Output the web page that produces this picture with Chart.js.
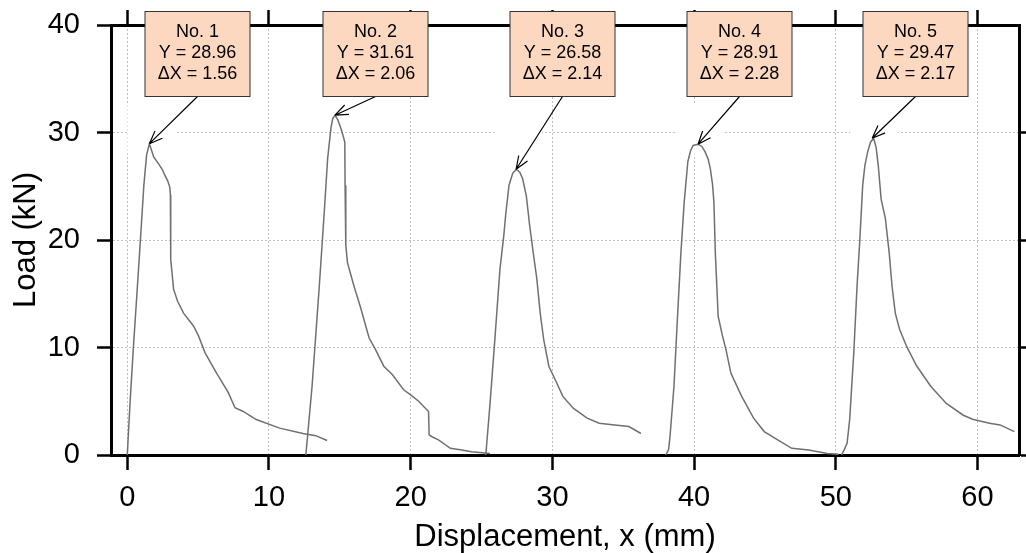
<!DOCTYPE html>
<html>
<head>
<meta charset="utf-8">
<script src="https://cdn.jsdelivr.net/npm/chart.js@4.4.1/dist/chart.umd.min.js"></script>
<style>
  html, body { margin: 0; padding: 0; background: #fff; }
  #wrap { width: 1026px; height: 553px; position: relative; }
</style>
</head>
<body>
<div id="wrap"><canvas id="chart"></canvas></div>
<script>
// --- axis ticks ---
const xTicks = [0, 10, 20, 30, 40, 50, 60];
const yTicks = [0, 10, 20, 30, 40];

// --- peak annotations ---
const specimens = ['No. 1', 'No. 2', 'No. 3', 'No. 4', 'No. 5'];
const peakLoad = [28.96, 31.61, 26.58, 28.91, 29.47];
const peakShift = [1.56, 2.06, 2.14, 2.28, 2.17];
const curveStart = [0, 12.6, 25.3, 38.0, 50.4];
const boxX = [4.9, 17.5, 30.7, 43.2, 55.6];

// --- load / displacement curves ---
const c1x = [0, 0.2, 0.43, 0.68, 0.93, 1.05, 1.17, 1.36, 1.56, 1.87, 2.15, 2.45, 2.7, 2.85, 3.0, 3.04, 3.05, 3.08, 3.27, 3.55, 3.97, 4.67, 5.02, 5.49, 6.31, 7.13, 7.6, 8.18, 9.1, 10.75, 12.4, 13.3, 14.1];
const c1y = [0, 5, 10, 15, 20.1, 22.6, 25.1, 27.9, 28.96, 27.7, 27.2, 26.6, 25.9, 25.5, 24.9, 24.2, 20.1, 18.2, 15.4, 14.3, 13.2, 12.0, 11.1, 9.5, 7.6, 5.8, 4.4, 4.05, 3.3, 2.5, 2.0, 1.8, 1.35];

const c2x = [12.6, 13.04, 13.55, 13.9, 14.14, 14.37, 14.5, 14.66, 14.85, 15.07, 15.25, 15.35, 15.37, 15.42, 15.54, 16.0, 16.47, 17.06, 17.52, 18.1, 18.7, 19.5, 20.0, 20.56, 21.26, 21.3, 21.5, 21.96, 22.8, 23.6, 24.3, 25.6];
const c2y = [0, 6.4, 15.7, 22.6, 27.6, 30.4, 31.3, 31.61, 31.2, 30.4, 29.6, 29.1, 25.1, 19.5, 17.9, 15.7, 13.7, 10.9, 9.8, 8.26, 7.48, 6.07, 5.6, 5.0, 4.05, 1.87, 1.7, 1.4, 0.62, 0.47, 0.3, 0.15];

const c3x = [25.3, 25.6, 25.96, 26.3, 26.57, 26.7, 26.94, 27.2, 27.44, 27.7, 27.9, 28.16, 28.4, 28.65, 28.9, 29.14, 29.39, 29.75, 30.2, 30.74, 31.47, 32.45, 33.3, 34.4, 35.4, 36.25];
const c3y = [0, 4.8, 11.1, 17.3, 20.4, 22.3, 25.1, 26.2, 26.58, 26.3, 25.7, 24.1, 21.3, 18.8, 16.4, 13.2, 10.7, 8.26, 7.0, 5.45, 4.36, 3.43, 2.96, 2.8, 2.65, 2.0];

const c4x = [38.0, 38.2, 38.3, 38.58, 38.82, 39.07, 39.3, 39.56, 39.75, 39.93, 40.28, 40.55, 40.78, 41.0, 41.15, 41.3, 41.4, 41.5, 41.7, 42.0, 42.25, 42.6, 43.36, 44.2, 44.95, 45.9, 46.9, 48.1, 49.4, 50.2];
const c4y = [0, 0.5, 1.7, 6.4, 12.6, 18.8, 23.5, 27.3, 28.3, 28.8, 28.91, 28.7, 28.2, 27.5, 26.6, 25.2, 23.5, 18.8, 12.9, 11.1, 9.8, 7.6, 5.45, 3.43, 2.18, 1.4, 0.62, 0.47, 0.15, 0.06];

const c5x = [50.4, 50.6, 50.8, 50.98, 51.27, 51.5, 51.7, 51.9, 52.05, 52.25, 52.45, 52.67, 52.85, 53.0, 53.2, 53.5, 53.77, 53.97, 54.2, 54.5, 55.0, 55.7, 56.7, 57.8, 59.0, 59.65, 60.85, 61.6, 62.6];
const c5y = [0, 0.5, 1.1, 3.3, 9.5, 15.7, 20.1, 25.1, 26.9, 28.2, 29.1, 29.47, 28.6, 26.9, 23.8, 22.0, 18.8, 15.7, 13.2, 11.7, 10.1, 8.3, 6.4, 4.8, 3.7, 3.33, 2.96, 2.8, 2.18];

const FONT = "'Liberation Sans', Arial, Helvetica, sans-serif";
const curves = [[c1x, c1y], [c2x, c2y], [c3x, c3y], [c4x, c4y], [c5x, c5y]];

const toPoints = (xs, ys) => xs.map((v, i) => ({ x: v, y: ys[i] }));
const setTicks = vals => s => { s.ticks = vals.map(v => ({ value: v })); };
// fixed axis box sizes, no extra label padding
const fixSize = (w, h) => s => {
  if (w !== null) s.width = w;
  if (h !== null) s.height = h;
  s.paddingTop = s.paddingBottom = s.paddingLeft = s.paddingRight = 0;
};

// white patches above the peaks (the grid is hidden there in the original)
const peakMask = {
  id: 'peakMask',
  beforeDatasetsDraw(chart) {
    const { ctx, scales: { x, y } } = chart;
    ctx.save();
    ctx.fillStyle = '#fff';
    peakLoad.forEach((v, i) => {
      const px = x.getPixelForValue(curveStart[i] + peakShift[i]);
      const py = y.getPixelForValue(v);
      ctx.fillRect(px + 2 - 24, py - 40, 48, 50);
    });
    ctx.restore();
  }
};

// boxes + arrows
const peakNotes = {
  id: 'peakNotes',
  afterDraw(chart) {
    const { ctx, chartArea, scales: { x, y } } = chart;
    const w = 105, h = 85, top = Math.round(chartArea.top - 14) + 0.5;
    ctx.save();
    specimens.forEach((name, i) => {
      const px = x.getPixelForValue(curveStart[i] + peakShift[i]);
      const py = y.getPixelForValue(peakLoad[i]);
      const bx = Math.round(x.getPixelForValue(boxX[i])) + 0.5;

      // arrow
      const sx = bx, sy = top + h;
      const ang = Math.atan2(py - sy, px - sx);
      ctx.strokeStyle = '#000';
      ctx.lineWidth = 1.2;
      ctx.beginPath();
      ctx.moveTo(sx, sy);
      ctx.lineTo(px, py);
      [-0.38, 0.38].forEach(d => {
        ctx.moveTo(px, py);
        ctx.lineTo(px - 14 * Math.cos(ang + d), py - 14 * Math.sin(ang + d));
      });
      ctx.stroke();

      // box
      ctx.fillStyle = '#fdd8c0';
      ctx.fillRect(bx - w / 2, top, w, h);
      ctx.strokeStyle = '#333';
      ctx.lineWidth = 1;
      ctx.strokeRect(bx - w / 2, top, w, h);

      // text
      ctx.fillStyle = '#000';
      ctx.font = '18px ' + FONT;
      ctx.textAlign = 'center';
      ctx.textBaseline = 'middle';
      ctx.fillText(name, bx, top + 21);
      ctx.fillText('Y = ' + peakLoad[i].toFixed(2), bx, top + 42);
      ctx.fillText('\u0394X = ' + peakShift[i].toFixed(2), bx, top + 63);
    });
    ctx.restore();
  }
};

new Chart(document.getElementById('chart'), {
  type: 'line',
  data: {
    datasets: curves.map((c, i) => ({
      label: specimens[i],
      data: toPoints(c[0], c[1]),
      borderColor: '#707070',
      borderWidth: 1.5,
      pointRadius: 0,
      tension: 0,
      fill: false
    }))
  },
  options: {
    responsive: true,
    maintainAspectRatio: false,
    animation: false,
    layout: { padding: 0 },
    plugins: { legend: { display: false }, tooltip: { enabled: false } },
    scales: {
      x: {
        type: 'linear', position: 'bottom', min: -1.15, max: 62.93,
        afterBuildTicks: setTicks(xTicks),
        afterFit: fixSize(null, 98),
        grid: { color: '#c0c0c0', lineWidth: 1, tickLength: 15, tickColor: '#000', tickWidth: 2.5 },
        border: { color: '#000', width: 3, dash: [2, 2] },
        ticks: { color: '#000', font: { family: FONT, size: 29 }, padding: 11, maxRotation: 0 },
        title: { display: true, text: 'Displacement, x (mm)', color: '#000', font: { family: FONT, size: 31, lineHeight: 1 }, padding: 0 }
      },
      x2: {
        type: 'linear', position: 'top', min: -1.15, max: 62.93,
        afterBuildTicks: setTicks(xTicks),
        afterFit: fixSize(null, 25),
        grid: { drawOnChartArea: false, tickLength: 15, tickColor: '#000', tickWidth: 2.5 },
        border: { color: '#000', width: 3 },
        ticks: { display: false }
      },
      y: {
        type: 'linear', position: 'left', min: 0, max: 40,
        afterBuildTicks: setTicks(yTicks),
        afterFit: fixSize(111, null),
        grid: { color: '#c0c0c0', lineWidth: 1, tickLength: 14, tickColor: '#000', tickWidth: 2.5 },
        border: { color: '#000', width: 3, dash: [2, 2] },
        ticks: { color: '#000', font: { family: FONT, size: 29 }, padding: 17 },
        title: { display: true, text: 'Load (kN)', color: '#000', font: { family: FONT, size: 31, lineHeight: 1 }, padding: { top: 11, bottom: 0 } }
      },
      y2: {
        type: 'linear', position: 'right', min: 0, max: 40,
        afterBuildTicks: setTicks(yTicks),
        afterFit: fixSize(7, null),
        grid: {
          drawOnChartArea: false, tickLength: 14, tickWidth: 2.5,
          tickColor: c => (c.tick && c.tick.value === 40 ? 'rgba(0,0,0,0)' : '#000')
        },
        border: { color: '#000', width: 3 },
        ticks: { display: false }
      }
    }
  },
  plugins: [peakMask, peakNotes]
});
</script>
</body>
</html>
